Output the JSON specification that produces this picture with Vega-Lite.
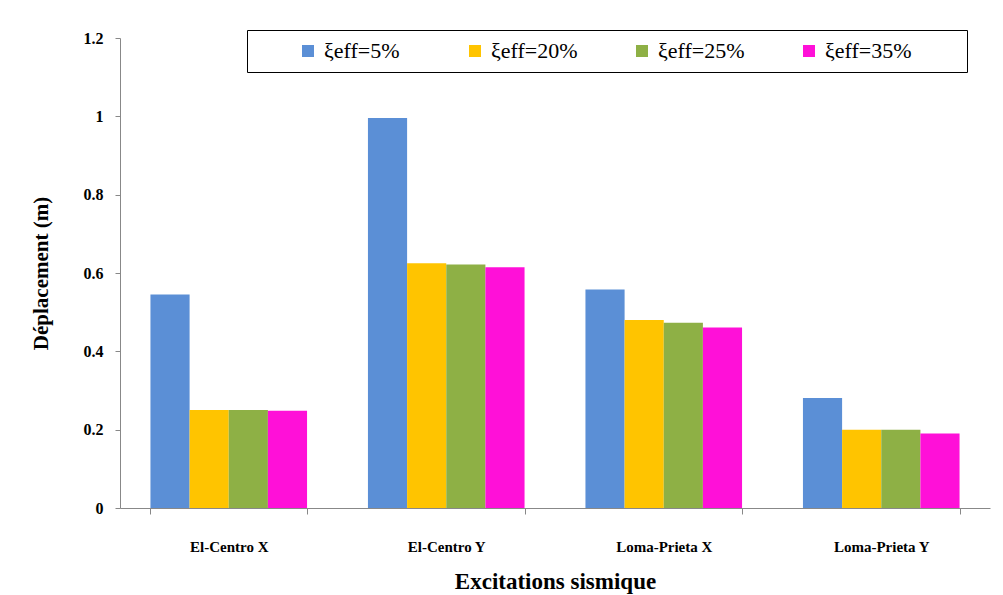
{
  "$schema": "https://vega.github.io/schema/vega-lite/v6.json",
  "autosize": {"type": "none"},
  "width": 870,
  "height": 470,
  "padding": {"left": 120, "top": 38, "right": 13, "bottom": 87},
  "background": "white",
  "config": {
    "view": {"stroke": null},
    "font": "Liberation Serif"
  },
  "data": {
    "values": [
      {"excitation": "El-Centro X", "serie": "ξeff=5%", "d": 0.545},
      {"excitation": "El-Centro X", "serie": "ξeff=20%", "d": 0.25},
      {"excitation": "El-Centro X", "serie": "ξeff=25%", "d": 0.25},
      {"excitation": "El-Centro X", "serie": "ξeff=35%", "d": 0.248},
      {"excitation": "El-Centro Y", "serie": "ξeff=5%", "d": 0.996},
      {"excitation": "El-Centro Y", "serie": "ξeff=20%", "d": 0.625},
      {"excitation": "El-Centro Y", "serie": "ξeff=25%", "d": 0.622},
      {"excitation": "El-Centro Y", "serie": "ξeff=35%", "d": 0.615},
      {"excitation": "Loma-Prieta X", "serie": "ξeff=5%", "d": 0.558},
      {"excitation": "Loma-Prieta X", "serie": "ξeff=20%", "d": 0.48},
      {"excitation": "Loma-Prieta X", "serie": "ξeff=25%", "d": 0.473},
      {"excitation": "Loma-Prieta X", "serie": "ξeff=35%", "d": 0.461},
      {"excitation": "Loma-Prieta Y", "serie": "ξeff=5%", "d": 0.281},
      {"excitation": "Loma-Prieta Y", "serie": "ξeff=20%", "d": 0.2},
      {"excitation": "Loma-Prieta Y", "serie": "ξeff=25%", "d": 0.2},
      {"excitation": "Loma-Prieta Y", "serie": "ξeff=35%", "d": 0.19}
    ]
  },
  "mark": {"type": "bar"},
  "encoding": {
    "x": {
      "field": "excitation",
      "type": "nominal",
      "sort": null,
      "scale": {"paddingInner": 0.28, "paddingOuter": 0.14},
      "axis": {
        "title": "Excitations sismique",
        "titleFont": "Liberation Serif",
        "titleFontSize": 23,
        "titleFontWeight": "bold",
        "titleColor": "black",
        "titlePadding": 16,
        "labelAngle": 0,
        "labelFont": "Liberation Serif",
        "labelFontSize": 15,
        "labelFontWeight": "bold",
        "labelColor": "black",
        "labelPadding": 25,
        "tickBand": "extent",
        "tickSize": 6,
        "tickColor": "#888888",
        "domainColor": "#888888"
      }
    },
    "xOffset": {"field": "serie", "type": "nominal", "sort": ["ξeff=5%", "ξeff=20%", "ξeff=25%", "ξeff=35%"], "scale": {"paddingInner": 0, "paddingOuter": 0}},
    "y": {
      "field": "d",
      "type": "quantitative",
      "scale": {"domain": [0, 1.2], "nice": false},
      "axis": {
        "title": "Déplacement (m)",
        "titleFont": "Liberation Serif",
        "titleFontSize": 21,
        "titleFontWeight": "bold",
        "titleColor": "black",
        "titlePadding": 32,
        "values": [0, 0.2, 0.4, 0.6, 0.8, 1, 1.2],
        "labelExpr": "datum.value == 0 ? '0' : datum.value == 1 ? '1' : format(datum.value, '.1f')",
        "labelFont": "Liberation Serif",
        "labelFontSize": 16,
        "labelFontWeight": "bold",
        "labelColor": "black",
        "labelPadding": 12,
        "tickSize": 5,
        "tickColor": "#888888",
        "domainColor": "#888888",
        "grid": false
      }
    },
    "color": {
      "field": "serie",
      "type": "nominal",
      "sort": ["ξeff=5%", "ξeff=20%", "ξeff=25%", "ξeff=35%"],
      "scale": {
        "domain": ["ξeff=5%", "ξeff=20%", "ξeff=25%", "ξeff=35%"],
        "range": ["#5B8FD6", "#FFC400", "#8EB045", "#FF10D8"]
      },
      "legend": {
        "title": " ",
        "titleOrient": "right",
        "titlePadding": 45,
        "titleFontSize": 19,
        "orient": "none",
        "legendX": 127,
        "legendY": -8,
        "direction": "horizontal",
        "columns": 4,
        "gridAlign": "all",
        "columnPadding": 13,
        "symbolOffset": 40,
        "symbolType": "square",
        "symbolSize": 144,
        "symbolStrokeWidth": 0,
        "labelFont": "Liberation Serif",
        "labelFontSize": 22,
        "labelColor": "black",
        "labelOffset": 5,
        "labelLimit": 300,
        "padding": 10,
        "strokeColor": "black",
        "fillColor": "white"
      }
    }
  }
}
